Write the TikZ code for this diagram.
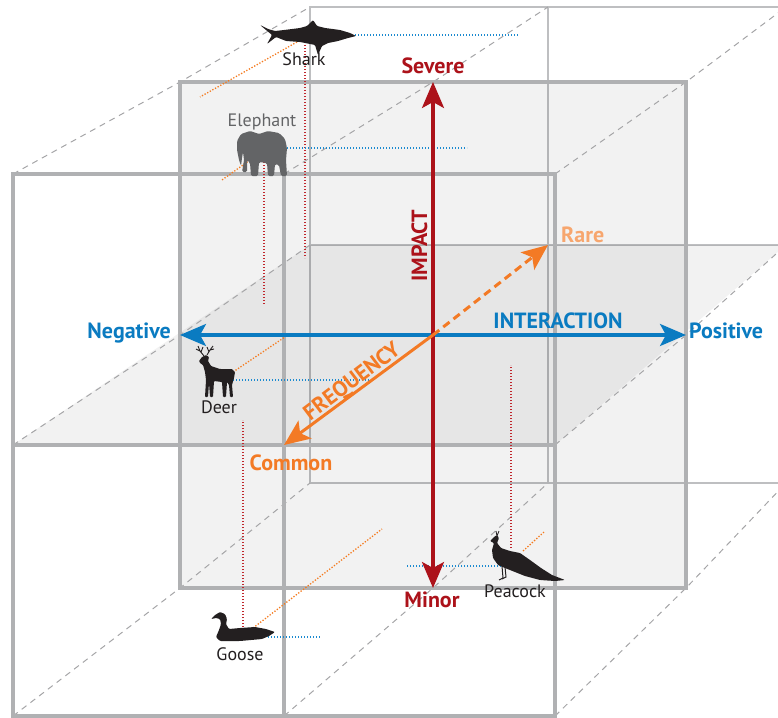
\documentclass[tikz,border=0pt]{standalone}
\usepackage{fontspec}
\setmainfont{PT Sans}
\usetikzlibrary{arrows.meta}

\definecolor{impactred}{RGB}{172,18,26}
\definecolor{interblue}{RGB}{10,123,193}
\definecolor{freqorange}{RGB}{243,122,37}
\definecolor{rareorange}{RGB}{247,166,110}
\definecolor{framegray}{RGB}{176,177,179}
\definecolor{backgray}{RGB}{190,191,193}
\definecolor{dashgray}{RGB}{165,165,167}
\definecolor{elephantgray}{RGB}{99,100,102}
\definecolor{inkblack}{RGB}{35,31,32}
\definecolor{dotblue}{RGB}{27,138,208}
\definecolor{dotred}{RGB}{192,39,45}
\definecolor{dotorange}{RGB}{244,123,32}

\tikzset{
  frame/.style={draw=framegray, line width=3.5pt},
  backframe/.style={draw=backgray, line width=1.5pt},
  depth/.style={draw=dashgray, line width=1pt, dash pattern=on 6pt off 5pt},
  plane/.style={fill=black, fill opacity=0.05},
  bigtip/.tip={Stealth[length=26pt,width=22pt,inset=6pt]},
  axis/.style={line width=3.2pt, bigtip-bigtip},
  freq/.style={line width=3pt, freqorange, -bigtip},
  proj/.style={line width=1.3pt, dash pattern=on 1.3pt off 1.7pt},
  axislabel/.style={font=\bfseries\fontsize{22}{22}\selectfont, anchor=base, inner sep=0pt},
  animallabel/.style={font=\fontsize{18}{18}\selectfont, anchor=base, inner sep=0pt, text=inkblack}
}

\begin{document}
\begin{tikzpicture}[x=1pt,y=-1pt]
\useasboundingbox (0,0) rectangle (778,717);

% grid points of front, middle and back layer
\foreach \l/\x/\y/\s in {f/13/174/542, m/180/82/506, b/310/7/476}
  \foreach \i in {0,1,2}
    \foreach \j in {0,1,2}
      \coordinate (\l\i\j) at ({\x+\i*\s/2},{\y+\j*\s/2});

% back layer
\draw[backframe] (b00) rectangle (b22) (b10) -- (b12) (b01) -- (b21);
% horizontal and vertical planes
\fill[plane] (f01) -- (f21) -- (b21) -- (b01) -- cycle;
\fill[plane] (m00) rectangle (m22);
% depth lines
\foreach \i/\j in {0/0,1/0,2/0,0/1,2/1,0/2,1/2,2/2}
  \draw[depth] (f\i\j) -- (m\i\j) -- (b\i\j);
\draw[frame] (m00) rectangle (m22);
\draw[frame] (f00) rectangle (f22) (f10) -- (f12) (f01) -- (f21);

% projections of the animals
\foreach \n/\ax/\ay/\bx/\by/\c in {
    sharkb/355/35/518/35/dotblue, sharkr/305/45/305/258/dotred, sharko/297/42/200/97/dotorange,
    elephb/287/148/467/148/dotblue, elephr/264/162/264/305/dotred, epheo/250/160/222/180/dotorange,
    deerb/233/380/373/380/dotblue, deero/233/372/285/337/dotorange,
    gooser/243/627/243/420/dotred, gooseo/253/628/382/529/dotorange, gooseb/268/637/320/637/dotblue,
    peacr/511/548/511/365/dotred, peaco/523/551/544/532/dotorange, peacb/510/566/407/566/dotblue}{
  \coordinate (\n-a) at (\ax,\ay);
  \coordinate (\n-b) at (\bx,\by);
  \draw[proj, \c] (\n-a) -- (\n-b);
}

% axes
\coordinate (ctr) at (m11);
\draw[axis, interblue] (m01) -- (m21);
\draw[axis, impactred] (m12) -- (m10);
\draw[freq] (ctr) -- (f11);
\draw[freq, dash pattern=on 8pt off 5pt] (ctr) -- (b11);

% animals
\fill[inkblack, rounded corners=1pt] (260,25) -- (268,29) -- (275,31) -- (284,30) -- (300,28)
  -- (307,26) -- (313,20) -- (317,26) -- (325,28) -- (340,30) -- (350,33) -- (356,36) -- (348,38)
  -- (338,41) -- (328,43) -- (322,46) -- (318,55) -- (315,45) -- (300,42) -- (286,41) -- (276,37)
  -- (267,44) -- (272,35) -- cycle;
\fill[elephantgray, rounded corners=1.5pt] (241,166) -- (239,160) -- (237,150) -- (237,141) -- (241,134)
  -- (250,131) -- (259,134) -- (268,131) -- (279,133) -- (285,139) -- (287,148) -- (286,160)
  -- (287,176) -- (281,176) -- (279,165) -- (275,164) -- (274,176) -- (268,176) -- (267,163)
  -- (259,162) -- (258,176) -- (251,176) -- (250,163) -- (247,160) -- (247,172) -- (242,172)
  -- (244,160) -- (243,152) -- (242,158) -- cycle;
\fill[inkblack, rounded corners=0.8pt] (199,361) -- (202,357) -- (206,355) -- (209,357) -- (208,361)
  -- (211,366) -- (220,369) -- (232,369) -- (235,372) -- (234,378) -- (232,385) -- (233,397)
  -- (230,397) -- (229,385) -- (227,382) -- (226,397) -- (223,397) -- (222,382) -- (214,381)
  -- (213,397) -- (210,397) -- (209,383) -- (208,397) -- (205,397) -- (206,380) -- (205,372)
  -- (203,365) -- (200,363) -- cycle;
\draw[inkblack, line width=0.9pt] (204,356) -- (200,351) -- (198,346) (200,351) -- (196,349)
  (201,352) -- (203,347) (207,355) -- (210,350) -- (213,346) (210,350) -- (214,349) (209,352) -- (207,347);
\fill[inkblack, rounded corners=1pt] (211,619) -- (215,615) -- (220,612) -- (225,614) -- (227,619)
  -- (226,624) -- (229,629) -- (240,628) -- (255,627) -- (266,629) -- (275,632) -- (269,636)
  -- (262,639) -- (240,641) -- (220,641) -- (216,637) -- (219,630) -- (221,624) -- (220,619)
  -- (216,618) -- cycle;
\fill[inkblack, rounded corners=1pt] (490,541) -- (494,537) -- (497,535) -- (499,538) -- (497,543)
  -- (501,548) -- (510,551) -- (520,553) -- (530,560) -- (541,568) -- (552,575) -- (565,580)
  -- (555,581) -- (540,580) -- (525,576) -- (515,572) -- (505,568) -- (498,565) -- (493,558)
  -- (492,550) -- (494,543) -- (492,542) -- cycle;
\draw[inkblack, line width=1pt] (502,566) -- (503,578) -- (499,580) (505,567) -- (506,577) -- (502,579);
\draw[inkblack, line width=0.8pt] (497,536) -- (496,531) (497,536) -- (499,531);

% labels
\node[axislabel, text=impactred] (severe) at (433,73) {Severe};
\node[axislabel, text=impactred] (minor) at (432,607) {Minor};
\node[axislabel, text=interblue, anchor=base east] (negative) at (171,338) {Negative};
\node[axislabel, text=interblue, anchor=base west] (positive) at (689,338) {Positive};
\node[axislabel, text=interblue] (interaction) at (558,328) {INTERACTION};
\node[axislabel, text=impactred, rotate=90] (impact) at (427,246) {IMPACT};
\node[axislabel, text=freqorange, rotate=37] (frequency) at (356,387) {FREQUENCY};
\node[axislabel, text=rareorange, anchor=base west] (rare) at (561,242) {Rare};
\node[axislabel, text=freqorange] (common) at (291,470) {Common};

\node[animallabel] (sharklabel) at (304,66) {Shark};
\node[animallabel, text=elephantgray] (elephantlabel) at (262,126) {Elephant};
\node[animallabel] (deerlabel) at (219,413) {Deer};
\node[animallabel] (gooselabel) at (240,660) {Goose};
\node[animallabel] (peacocklabel) at (515,597) {Peacock};
\end{tikzpicture}
\end{document}
